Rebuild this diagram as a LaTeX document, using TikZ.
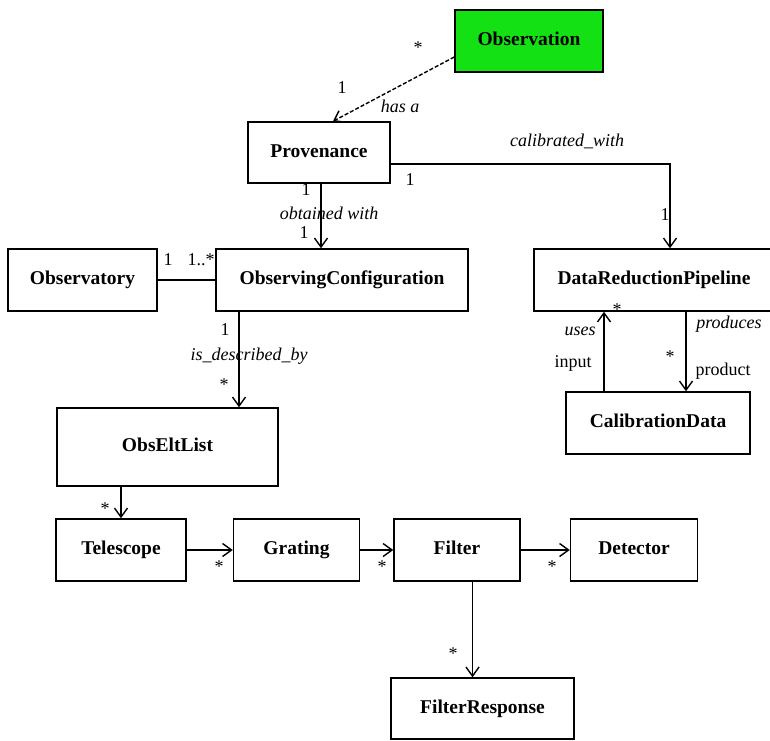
\documentclass[tikz,border=0pt]{standalone}
\usepackage{fontspec}
\setmainfont{Liberation Serif}
\usetikzlibrary{arrows.meta,positioning}
\definecolor{obsgreen}{RGB}{20,225,20}

\begin{document}
\begin{tikzpicture}[
  x=1pt, y=-1pt,
  class/.style={draw, line width=1.5pt, minimum height=62pt, inner sep=0pt,
                text height=13pt, text depth=4pt,
                font=\fontsize{19.5}{22}\selectfont\bfseries},
  lbl/.style={inner sep=0pt, text height=0.7em, text depth=0.2em,
              font=\fontsize{18}{20}\selectfont},
  role/.style={lbl, font=\fontsize{18}{20}\selectfont\itshape},
  arr/.style={-{Straight Barb[length=9pt,width=13pt]}, line width=1.4pt},
  link/.style={line width=1.4pt}
]
\useasboundingbox (0,0) rectangle (770,740);
\node[class, fill=obsgreen, minimum width=148pt] (observation) at (529,41) {Observation};
\node[class, minimum width=142pt, minimum height=61pt] (provenance) at (319,152.5) {Provenance};
\node[class, minimum width=149pt] (observatory) at (82.5,280) {Observatory};
\node[class, minimum width=252pt] (obsconfig) at (342,280) {ObservingConfiguration};
\node[class, minimum width=240pt] (pipeline) at (654,280) {DataReductionPipeline};
\node[class, minimum width=184pt] (calibdata) at (658,423) {CalibrationData};
\node[class, minimum width=221pt, minimum height=78pt] (eltlist) at (167.5,447) {ObsEltList};
\node[class, minimum width=130pt] (telescope) at (121,550) {Telescope};
\node[class, minimum width=126pt, right=46pt of telescope] (grating) {Grating};
\node[class, minimum width=126pt, right=33pt of grating] (filter) {Filter};
\node[class, minimum width=127pt, right=49pt of filter] (detector) {Detector};
\node[class, minimum width=183pt, minimum height=61pt] (response) at (482.5,708.5) {FilterResponse};
% associations
\draw[arr, dash pattern=on 4pt off 2pt] ([yshift=-16pt]observation.west) -- ([xshift=14pt]provenance.north);
\draw[arr] ([yshift=-11.5pt]provenance.east) -| ([xshift=16pt]pipeline.north);
\draw[arr] ([xshift=2pt]provenance.south) -- ([xshift=2pt]provenance.south |- obsconfig.north);
\draw[link] (observatory.east) -- (obsconfig.west);
\draw[arr] ([xshift=-103pt]obsconfig.south) -- ([xshift=-103pt]obsconfig.south |- eltlist.north);
\draw[arr] (telescope.north |- eltlist.south) -- (telescope.north);
\draw[arr] (telescope.east) -- (grating.west);
\draw[arr] (grating.east) -- (filter.west);
\draw[arr] (filter.east) -- (detector.west);
\draw[arr] ([xshift=15.5pt]filter.south) -- ([xshift=15.5pt]filter.south |- response.north);
\draw[arr] ([xshift=-54pt]calibdata.north) -- ([xshift=-54pt]calibdata.north |- pipeline.south);
\draw[arr] ([xshift=28pt]calibdata.north |- pipeline.south) -- ([xshift=28pt]calibdata.north);
% multiplicities and roles
\node[lbl] (m-obs) at (418,51) {*};
\node[lbl] (m-prov) at (342,91) {1};
\node[role] (r-has) at (400,110) {has a};
\node[role] (r-calib) at (567,144) {calibrated\_with};
\node[lbl] (m-calib1) at (410,183) {1};
\node[lbl] (m-calib2) at (665,218) {1};
\node[lbl] (m-obt1) at (306,193) {1};
\node[role] (r-obt) at (329,217) {obtained with};
\node[lbl] (m-obt2) at (304,236) {1};
\node[lbl] (m-site1) at (168,263) {1};
\node[lbl] (m-site2) at (201,263) {1..*};
\node[lbl] (m-desc1) at (225,333) {1};
\node[role] (r-desc) at (249,358) {is\_described\_by};
\node[lbl] (m-desc2) at (224,388) {*};
\node[lbl] (m-tel) at (105,512) {*};
\node[lbl] (m-grat) at (219,570) {*};
\node[lbl] (m-filt) at (382,570) {*};
\node[lbl] (m-det) at (552,570) {*};
\node[lbl] (m-resp) at (453,657) {*};
\node[lbl] (m-uses) at (617,313) {*};
\node[role] (r-uses) at (580,333) {uses};
\node[lbl] (r-input) at (573,365) {input};
\node[role] (r-prod) at (729,326) {produces};
\node[lbl] (m-prod) at (670,360) {*};
\node[lbl] (r-product) at (723,373) {product};
\end{tikzpicture}
\end{document}
